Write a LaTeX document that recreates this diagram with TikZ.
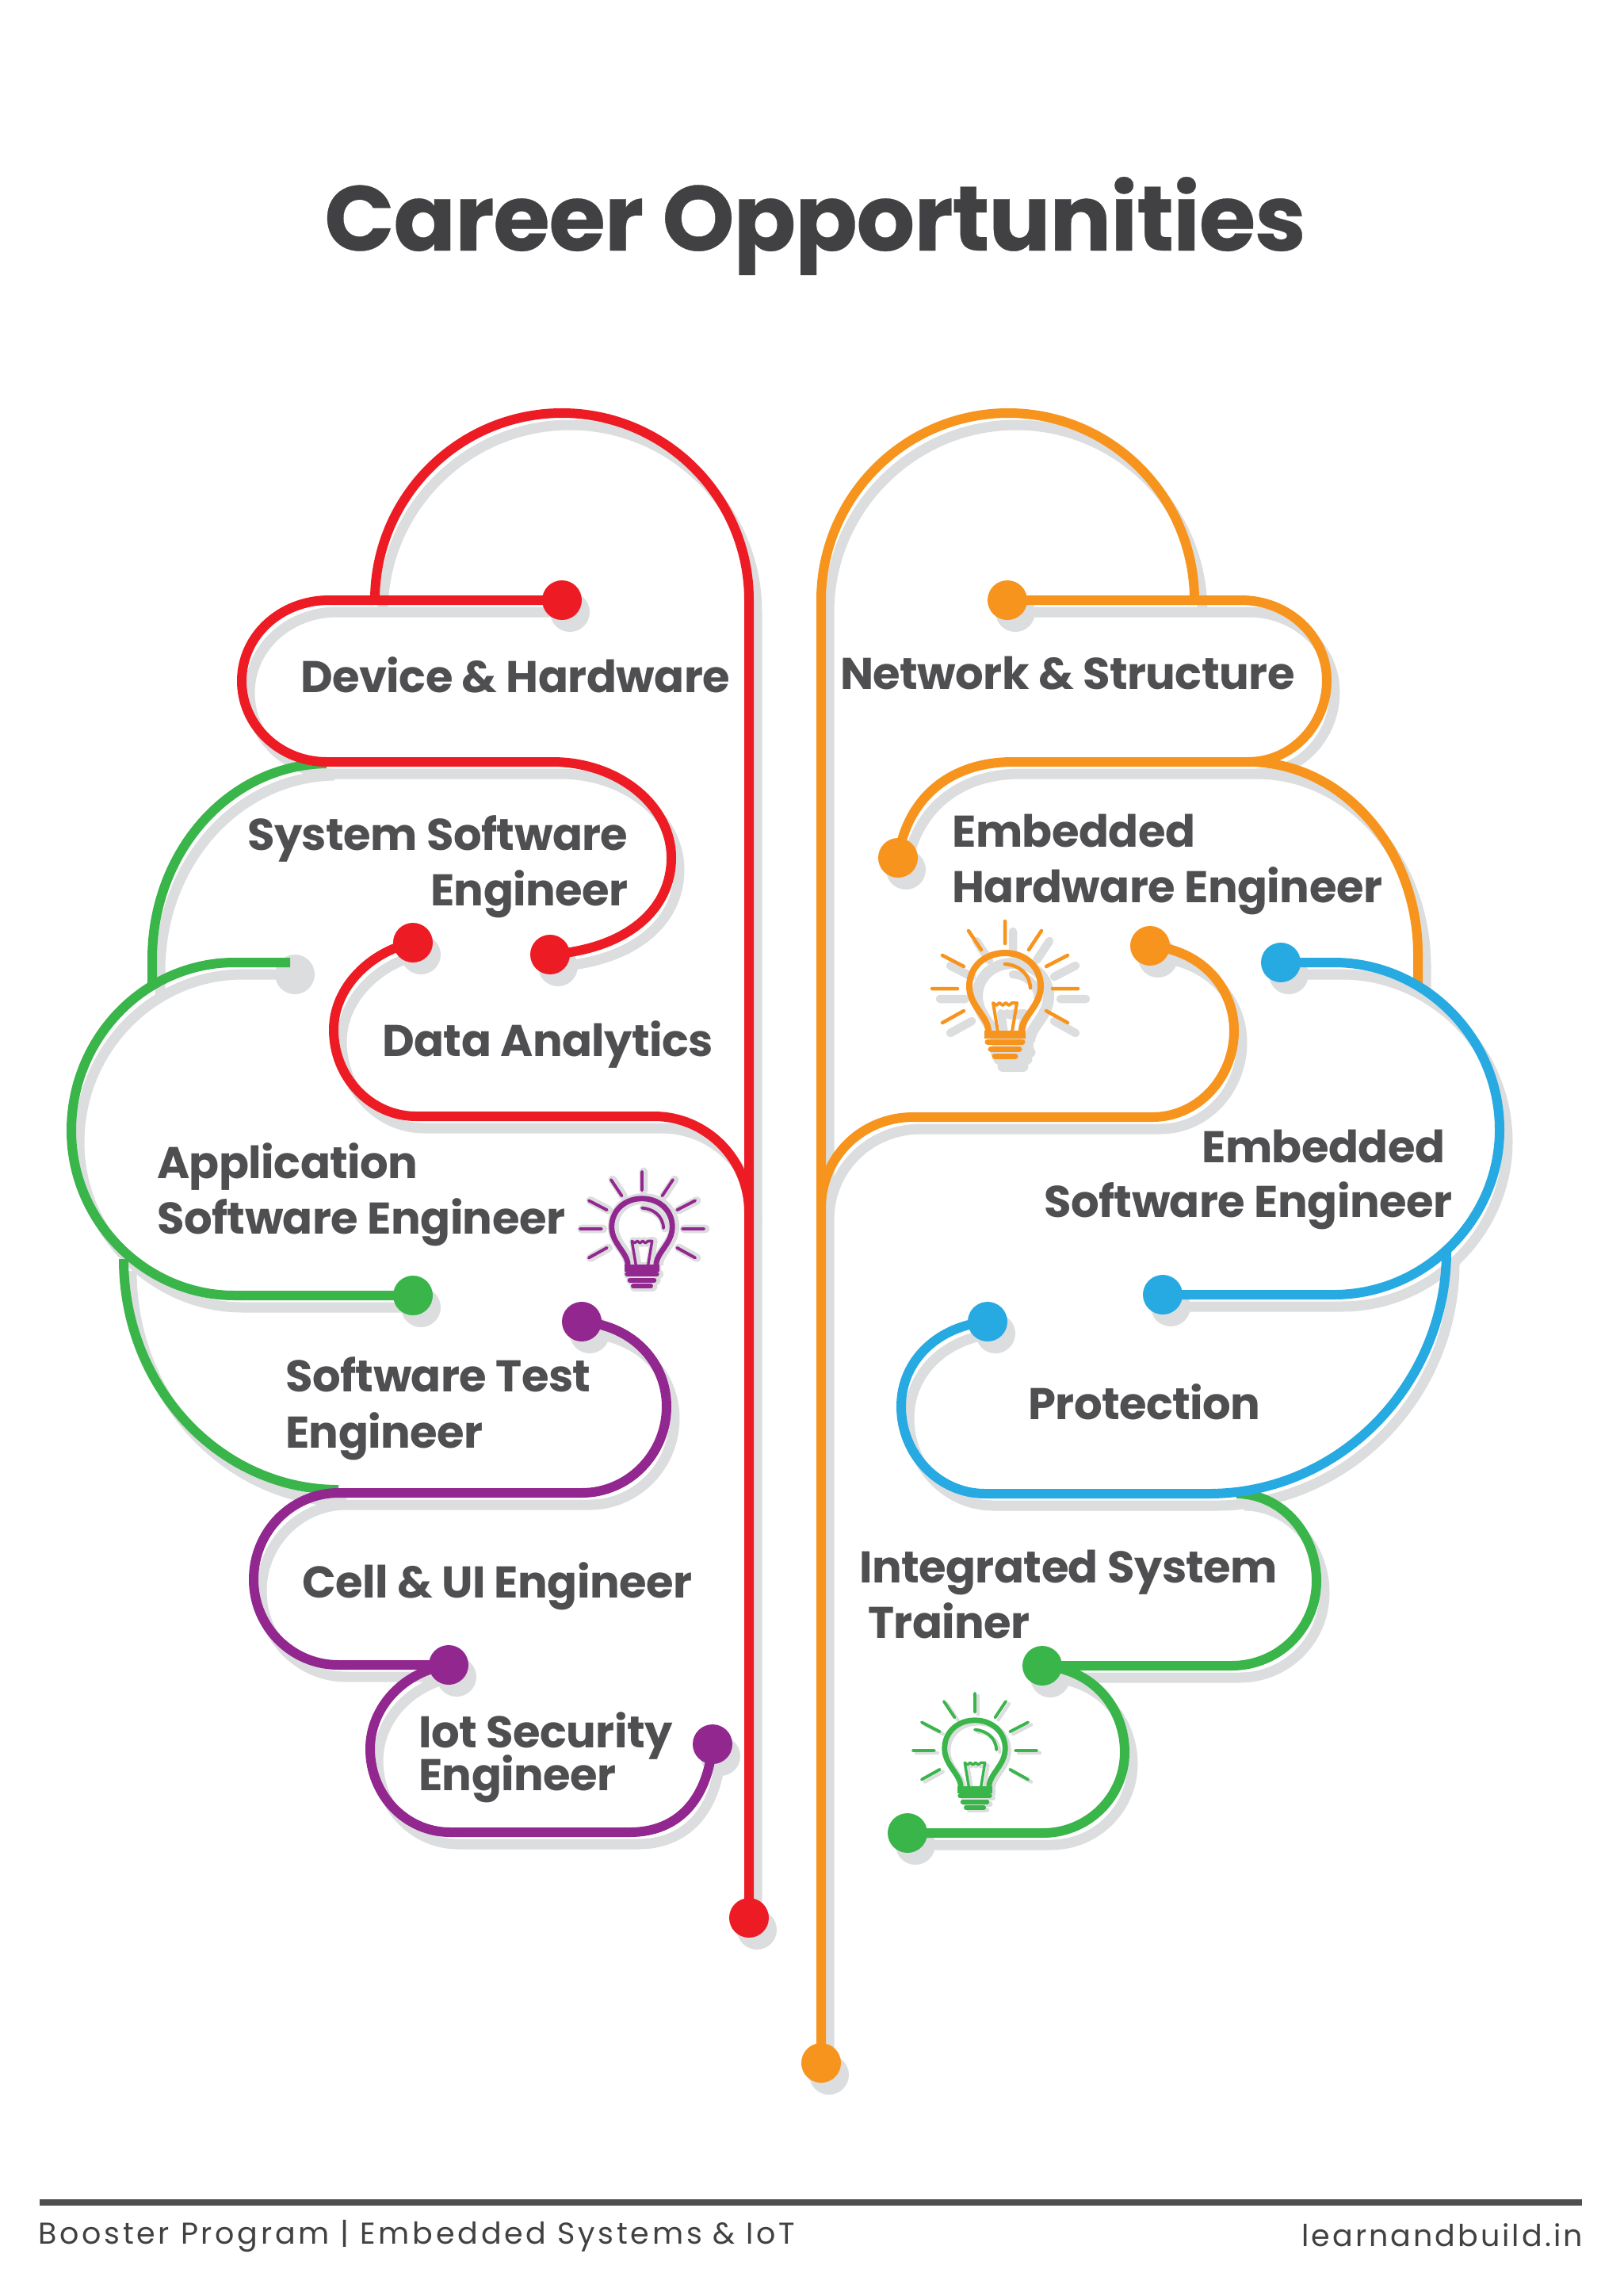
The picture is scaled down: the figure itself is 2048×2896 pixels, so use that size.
\documentclass[tikz,border=0pt]{standalone}
\usepackage{fontspec}
\setmainfont{Poppins}
\usetikzlibrary{calc}
\definecolor{cred}{HTML}{ED1C24}
\definecolor{corange}{HTML}{F7941E}
\definecolor{cgreen}{HTML}{39B54A}
\definecolor{cblue}{HTML}{27AAE1}
\definecolor{cpurple}{HTML}{92278F}
\definecolor{cshadow}{HTML}{DCDDDE}
\definecolor{ctext}{HTML}{4F4F52}
\definecolor{ctitle}{HTML}{414042}
\tikzset{
  wire/.style={line width=12pt,line cap=butt,line join=round},
  shadowwire/.style={wire,draw=cshadow,line width=13pt},
  dotnode/.style={circle,minimum size=50pt,inner sep=0pt,draw=none},
  lab/.style={anchor=base west,xshift=-2pt,inner sep=0pt,text=ctext,font=\fontsize{56}{60}\selectfont\bfseries\addfontfeatures{LetterSpace=-1}},
  foot/.style={inner sep=0pt,text=ctitle},
}
\newcommand{\pt}[3]{\coordinate (#1) at (#2,#3); \coordinate (s#1) at (#2+10,#3+15);}
% wires; #1 is empty for the wire, s for its shadow
\newcommand{\WrA}[1]{(#1r1) -- (415,757) .. controls (354,757) and (305,802) .. (305,859) .. controls (305,915) and (353,961) .. (412,961) -- (697,961) .. controls (779,961) and (847,1015) .. (847,1082) .. controls (847,1148) and (790,1197) .. (#1r2)}
\newcommand{\WrB}[1]{(473,757) .. controls (473,627) and (579,521) .. (709,521) .. controls (839,521) and (945,627) .. (945,757) -- (#1r3)}
\newcommand{\WrC}[1]{(#1r4) .. controls (468,1200) and (421,1245) .. (421,1299) .. controls (421,1359) and (468,1408) .. (525,1408) -- (825,1408) .. controls (891,1408) and (945,1462) .. (945,1529)}
\newcommand{\WgA}[1]{(412,963) .. controls (288,965) and (192,1075) .. (192,1210) -- (192,1245)}
\newcommand{\WgB}[1]{(366,1214) -- (296,1214) .. controls (183,1214) and (90,1309) .. (90,1426) .. controls (90,1540) and (183,1634) .. (296,1634) -- (#1g1)}
\newcommand{\WgC}[1]{(156,1588) .. controls (156,1750) and (278,1879) .. (427,1879)}
\newcommand{\WpA}[1]{(#1p1) .. controls (800,1672) and (841,1720) .. (841,1774) .. controls (841,1834) and (793,1883) .. (734,1883) -- (427,1883) .. controls (368,1883) and (320,1932) .. (320,1992) .. controls (320,2052) and (368,2100) .. (427,2100) -- (#1p2)}
\newcommand{\WpB}[1]{(#1p2) .. controls (510,2108) and (467,2153) .. (467,2206) .. controls (467,2264) and (512,2311) .. (568,2311) -- (795,2311) .. controls (855,2311) and (893,2270) .. (#1p3)}
\newcommand{\WoA}[1]{(#1o1) -- (1036,757) .. controls (1036,627) and (1142,521) .. (1272,521) .. controls (1402,521) and (1507,627) .. (1507,757)}
\newcommand{\WoB}[1]{(#1o2) -- (1566,757) .. controls (1625,757) and (1674,802) .. (1674,858) .. controls (1674,915) and (1629,961) .. (1575,961) -- (1278,961) .. controls (1200,961) and (1145,1005) .. (#1o3)}
\newcommand{\WoC}[1]{(1575,961) .. controls (1693,961) and (1789,1070) .. (1789,1204) -- (1789,1240)}
\newcommand{\WoD}[1]{(#1o4) .. controls (1515,1198) and (1557,1245) .. (1557,1300) .. controls (1557,1360) and (1511,1409) .. (1454,1409) -- (1152,1409) .. controls (1089,1409) and (1038,1457) .. (1036,1520)}
\newcommand{\WbA}[1]{(#1b1) -- (1683,1214) .. controls (1797,1214) and (1892,1309) .. (1892,1425) .. controls (1892,1539) and (1797,1633) .. (1683,1633) -- (#1b2)}
\newcommand{\WbB}[1]{(1825,1578) .. controls (1825,1746) and (1690,1884) .. (1525,1884) -- (1243,1884) .. controls (1185,1884) and (1137,1835) .. (1137,1774) .. controls (1137,1715) and (1185,1672) .. (#1b3)}
\newcommand{\WhA}[1]{(1560,1884) .. controls (1616,1884) and (1661,1934) .. (1661,1994) .. controls (1661,2054) and (1613,2101) .. (1554,2101) -- (#1h1)}
\newcommand{\WhB}[1]{(#1h1) .. controls (1380,2105) and (1419,2155) .. (1419,2210) .. controls (1419,2266) and (1373,2312) .. (1316,2312) -- (#1h2)}
% bulb, drawn around its centre; #1 extra stroke, #2 colour
\newcommand{\bulbgeom}[2]{%
  \begin{scope}[draw=#2,line cap=round,line join=round]
  \draw[line width=(4.5+#1)*\bulbs*1pt] (0,-85) -- (0,-57) (-92,0) -- (-60,0) (92,0) -- (60,0)
     (-46,-73) -- (-30,-49) (46,-73) -- (30,-49) (-79,-42) -- (-52,-28) (79,-42) -- (52,-28)
     (-79,43) -- (-52,28) (79,43) -- (52,28);
  \draw[line width=(8+#1)*\bulbs*1pt,line cap=butt] (-21,54) .. controls (-21,35) and (-45,22) .. (-45,-3) .. controls (-45,-28) and (-25,-45) .. (0,-45) .. controls (25,-45) and (45,-28) .. (45,-3) .. controls (45,22) and (21,35) .. (21,54);
  \draw[line width=(4.5+#1)*\bulbs*1pt] (0,-31) .. controls (16,-30) and (31,-20) .. (32,-1);
  \draw[line width=(4+#1)*\bulbs*1pt,line cap=butt] (-9,54) -- (-15,18) -- (-11,21) -- (-7,18) -- (-3,21) -- (1,18) -- (5,21) -- (9,18) -- (15,18) -- (9,54);
  \draw[line width=(10+#1)*\bulbs*1pt,line cap=butt] (-26,58) -- (26,58);
  \draw[line width=(7+#1)*\bulbs*1pt] (-22,67) -- (22,67) (-18,76) -- (18,76) (-13,85) -- (13,85);
  \end{scope}}
% x, y, scale, colour, shadow dx, shadow dy, shadow extra stroke
\newcommand{\bulb}[7]{%
  \def\bulbs{#3}%
  \begin{scope}[shift={(#1+#5,#2+#6)},scale=#3]\bulbgeom{#7}{cshadow}\end{scope}
  \begin{scope}[shift={(#1,#2)},scale=#3]\bulbgeom{0}{#4}\end{scope}}
\begin{document}
\begin{tikzpicture}[x=1pt,y=-1pt]
\useasboundingbox (0,0) rectangle (2048,2896);
\fill[white] (0,0) rectangle (2048,2896);
\pt{r1}{709}{757}\pt{r2}{694}{1204}\pt{r3}{945}{2419}\pt{r4}{521}{1189}
\pt{g0}{362}{1214}\pt{g1}{521}{1634}
\pt{p1}{734}{1667}\pt{p2}{566}{2100}\pt{p3}{899}{2200}
\pt{o1}{1036}{2602}\pt{o2}{1271}{757}\pt{o3}{1133}{1082}\pt{o4}{1451}{1193}
\pt{b1}{1616}{1214}\pt{b2}{1467}{1633}\pt{b3}{1246}{1667}
\pt{h1}{1315}{2101}\pt{h2}{1145}{2312}
% shadows
\begin{scope}[shift={(10,15)}]
\foreach \w in {\WgA,\WgC,\WoC,\WhA,\WrA,\WrB,\WrC,\WgB,\WpA,\WpB,\WoA,\WoB,\WoD,\WbA,\WbB,\WhB}{\draw[shadowwire] \w{s};}
\end{scope}
\foreach \n in {r1,r2,r3,r4,g0,g1,p1,p2,p3,o1,o2,o3,o4,b1,b2,b3,h1,h2}{\node[dotnode,fill=cshadow] (shadow-\n) at (s\n) {};}
% wires
\draw[wire,draw=cgreen] \WgA{};
\draw[wire,draw=cgreen] \WgC{};
\draw[wire,draw=corange] \WoC{};
\draw[wire,draw=cgreen] \WhA{};
\draw[wire,draw=cred] \WrA{};
\draw[wire,draw=cred] \WrB{};
\draw[wire,draw=cred] \WrC{};
\draw[wire,draw=cgreen] \WgB{};
\draw[wire,draw=cpurple] \WpA{};
\draw[wire,draw=cpurple] \WpB{};
\draw[wire,draw=corange] \WoA{};
\draw[wire,draw=corange] \WoB{};
\draw[wire,draw=corange] \WoD{};
\draw[wire,draw=cblue] \WbA{};
\draw[wire,draw=cblue] \WbB{};
\draw[wire,draw=cgreen] \WhB{};
% dots
\foreach \n/\c in {r1/cred,r2/cred,r3/cred,r4/cred,g1/cgreen,p1/cpurple,p2/cpurple,p3/cpurple,o1/corange,o2/corange,o3/corange,o4/corange,b1/cblue,b2/cblue,b3/cblue,h1/cgreen,h2/cgreen}{\node[dotnode,fill=\c] (dot-\n) at (\n) {};}
% bulbs
\bulb{1268}{1247}{1}{corange}{10}{13}{6}
\bulb{810}{1550}{0.85}{cpurple}{2}{0}{8}
\bulb{1230}{2208}{0.85}{cgreen}{4}{3}{0.5}
% title
\node[anchor=base west,inner sep=0pt,text=ctitle,font=\fontsize{116}{120}\selectfont\bfseries\addfontfeatures{LetterSpace=-1.1,FakeBold=0.3}] (title) at (409,316) {Career Opportunities};
% labels
\node[lab] (l1) at (381,873) {Device \& Hardware};
\node[lab] (l2a) at (314,1072) {System Software};
\node[lab] (l2b) at (545,1142) {Engineer};
\node[lab] (l3) at (484,1332) {Data Analytics};
\node[lab] (l4a) at (200,1486) {Application};
\node[lab] (l4b) at (200,1556) {Software Engineer};
\node[lab] (l5a) at (362,1755) {Software Test};
\node[lab] (l5b) at (362,1826) {Engineer};
\node[lab] (l6) at (383,2015) {Cell \& UI Engineer};
\node[lab] (l7a) at (530,2204) {Iot Security};
\node[lab] (l7b) at (530,2258) {Engineer};
\node[lab] (r1t) at (1062,869) {Network \& Structure};
\node[lab] (r2a) at (1203,1068) {Embedded};
\node[lab] (r2b) at (1203,1138) {Hardware Engineer};
\node[lab] (r3a) at (1518,1466) {Embedded};
\node[lab] (r3b) at (1319,1535) {Software Engineer};
\node[lab] (r4t) at (1299,1790) {Protection};
\node[lab] (r5a) at (1086,1996) {Integrated System};
\node[lab] (r5b) at (1097,2066) {Trainer};
% footer
\draw[line width=8pt,draw=ctext] (50,2778) coordinate (fl) -- (1996,2778) coordinate (fr);
\node[foot,anchor=base west,font=\fontsize{38}{40}\selectfont\addfontfeatures{LetterSpace=9.9}] (f1) at (48,2830) {Booster Program | Embedded Systems \& IoT};
\node[foot,anchor=base east,font=\fontsize{38}{40}\selectfont\addfontfeatures{LetterSpace=8}] (f2) at (1997,2833) {learnandbuild.in};
\end{tikzpicture}
\end{document}
